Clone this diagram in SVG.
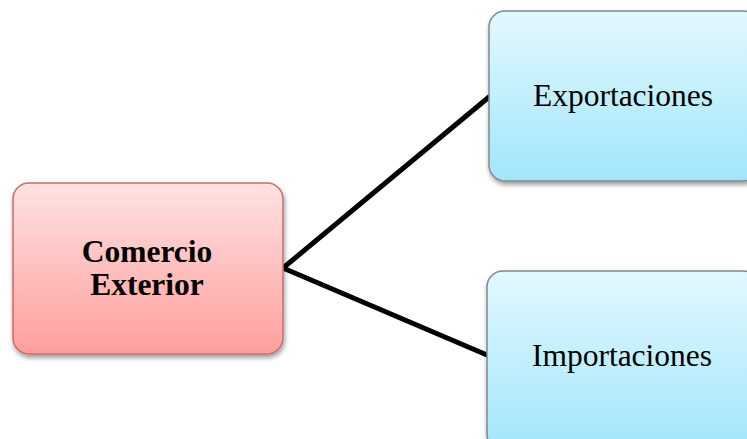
<svg xmlns="http://www.w3.org/2000/svg" width="747" height="439" viewBox="0 0 747 439">
  <defs>
    <linearGradient id="redFill" x1="0" y1="0" x2="0" y2="1">
      <stop offset="0" stop-color="#ffe2e2"/>
      <stop offset="1" stop-color="#ff9e9c"/>
    </linearGradient>
    <linearGradient id="blueFill" x1="0" y1="0" x2="0" y2="1">
      <stop offset="0" stop-color="#e2f8ff"/>
      <stop offset="1" stop-color="#a2e6fb"/>
    </linearGradient>
    <filter id="shadow" x="-10%" y="-10%" width="125%" height="130%">
      <feGaussianBlur in="SourceAlpha" stdDeviation="2.5"/>
      <feOffset dx="1" dy="3" result="b"/>
      <feComponentTransfer><feFuncA type="linear" slope="0.4"/></feComponentTransfer>
      <feMerge><feMergeNode/><feMergeNode in="SourceGraphic"/></feMerge>
    </filter>
  </defs>
  <style>
    .label { font-family: "Liberation Serif", "Times New Roman", serif; fill: #000; text-anchor: middle; }
    .conn { stroke: #000; stroke-width: 5; fill: none; stroke-linecap: round; }
  </style>
  <rect width="747" height="439" fill="#ffffff"/>

  <g id="connectors">
    <line class="conn" x1="283" y1="268" x2="489" y2="97"/>
    <line class="conn" x1="283" y1="268" x2="487" y2="355"/>
  </g>

  <g id="comercio-exterior">
    <rect x="13" y="183" width="270" height="171" rx="16" fill="url(#redFill)" stroke="#cc6b6b" stroke-width="1.5" filter="url(#shadow)"/>
    <text class="label" x="147" y="262" font-size="31.5" font-weight="bold">Comercio</text>
    <text class="label" x="147" y="295" font-size="31.5" font-weight="bold">Exterior</text>
  </g>

  <g id="exportaciones">
    <rect x="489" y="11" width="270" height="170" rx="16" fill="url(#blueFill)" stroke="#7f8a8f" stroke-width="1.5" filter="url(#shadow)"/>
    <text class="label" x="623" y="106" font-size="31.5">Exportaciones</text>
  </g>

  <g id="importaciones">
    <rect x="487" y="271" width="272" height="180" rx="16" fill="url(#blueFill)" stroke="#7f8a8f" stroke-width="1.5" filter="url(#shadow)"/>
    <text class="label" x="622" y="366" font-size="31.5">Importaciones</text>
  </g>
</svg>
